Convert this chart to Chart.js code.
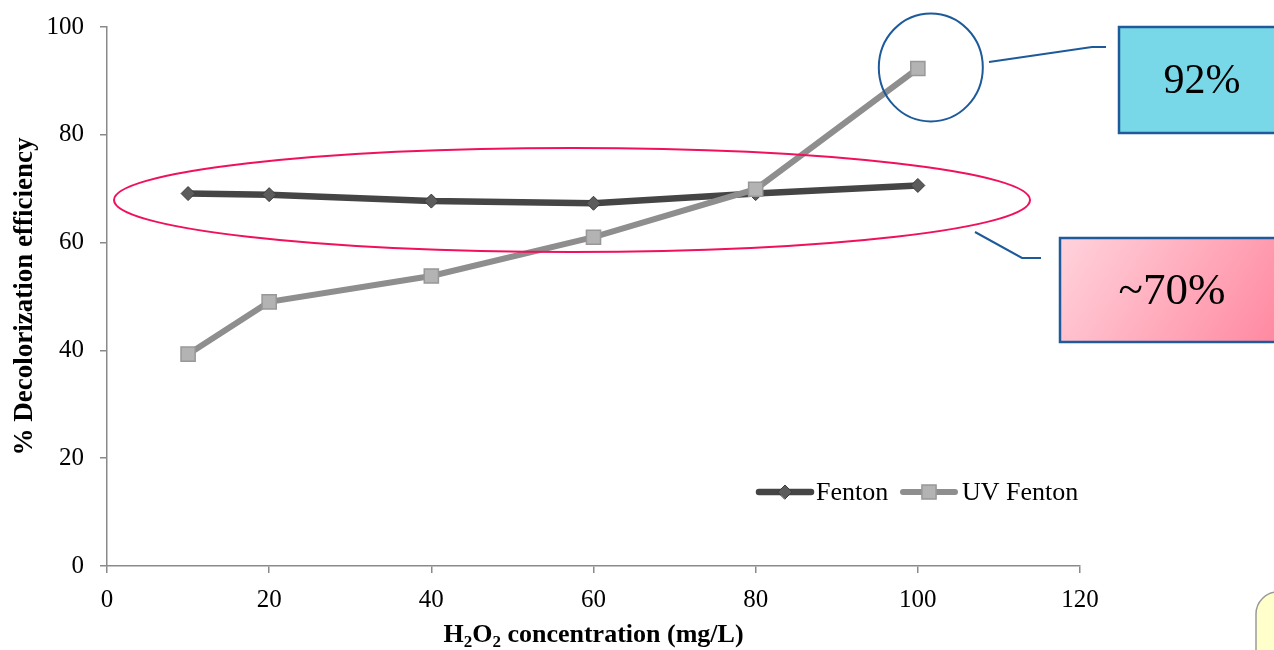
<!DOCTYPE html>
<html><head><meta charset="utf-8">
<script src="https://cdn.jsdelivr.net/npm/chart.js@4.4.1/dist/chart.umd.min.js"></script>
<style>html,body{margin:0;padding:0;background:#fff;overflow:hidden}canvas{display:block}</style>
</head><body>
<canvas id="c" width="1274" height="650"></canvas>
<script>
const concentrations = [10, 20, 40, 60, 80, 100];
const fentonValues = [69.1, 68.9, 67.7, 67.3, 69.1, 70.6];
const uvFentonValues = [39.3, 49.0, 53.8, 61.0, 69.9, 92.3];
const seriesLabels = ['Fenton', 'UV Fenton'];
const xTickValues = [0, 20, 40, 60, 80, 100, 120];
const yTickValues = [0, 20, 40, 60, 80, 100];
const xTitleParts = [['H', false], ['2', true], ['O', false], ['2', true], [' concentration (mg/L)', false]];
const yTitleText = '% Decolorization efficiency';
const calloutTexts = ['92%', '~70%'];

const SERIF = '"Liberation Serif", "Times New Roman", serif';

const bgPlugin = {
  id: 'bg',
  beforeDraw(chart) {
    const ctx = chart.ctx;
    ctx.save();
    ctx.fillStyle = '#ffffff';
    ctx.fillRect(0, 0, chart.width, chart.height);
    ctx.restore();
  }
};

const xTitlePlugin = {
  id: 'xTitle',
  afterDraw(chart) {
    const ctx = chart.ctx;
    const ca = chart.chartArea;
    const big = 'bold 26px ' + SERIF;
    const small = 'bold 17px ' + SERIF;
    ctx.save();
    let total = 0;
    xTitleParts.forEach(([t, sub]) => { ctx.font = sub ? small : big; total += ctx.measureText(t).width; });
    let x = (ca.left + ca.right) / 2 - total / 2;
    const base = 642;
    ctx.fillStyle = '#000';
    ctx.textBaseline = 'alphabetic';
    xTitleParts.forEach(([t, sub]) => {
      ctx.font = sub ? small : big;
      ctx.fillText(t, x, sub ? base + 5 : base);
      x += ctx.measureText(t).width;
    });
    ctx.restore();
  }
};

const legendPlugin = {
  id: 'customLegend',
  afterDraw(chart) {
    const ctx = chart.ctx;
    const items = [{x: 759, tx: 816}, {x: 903, tx: 962}];
    const y = 492;
    ctx.save();
    chart.data.datasets.forEach((ds, i) => {
      const it = items[i];
      ctx.strokeStyle = ds.borderColor;
      ctx.lineWidth = ds.borderWidth;
      ctx.lineCap = 'round';
      ctx.beginPath();
      ctx.moveTo(it.x, y);
      ctx.lineTo(it.x + 52, y);
      ctx.stroke();
      ctx.fillStyle = ds.pointBackgroundColor;
      ctx.strokeStyle = ds.pointBorderColor;
      ctx.lineWidth = ds.pointBorderWidth;
      Chart.helpers.drawPoint(ctx, {pointStyle: ds.pointStyle, radius: ds.pointRadius, borderWidth: ds.pointBorderWidth, rotation: 0}, it.x + 26, y);
      ctx.fillStyle = '#000';
      ctx.font = '26px ' + SERIF;
      ctx.textBaseline = 'middle';
      ctx.textAlign = 'left';
      ctx.fillText(ds.label, it.tx, y + 1);
    });
    ctx.restore();
  }
};

const calloutPlugin = {
  id: 'callouts',
  afterDraw(chart) {
    const ctx = chart.ctx;
    const xs = chart.scales.x, ys = chart.scales.y;
    ctx.save();
    // blue circle around the 92% point
    const cx = xs.getPixelForValue(101.6), cy = ys.getPixelForValue(92.5);
    ctx.strokeStyle = '#1d5a9a';
    ctx.lineWidth = 2;
    ctx.beginPath();
    ctx.ellipse(cx, cy, 52, 54, 0, 0, Math.PI * 2);
    ctx.stroke();
    ctx.beginPath();
    ctx.moveTo(989, 62); ctx.lineTo(1092, 47); ctx.lineTo(1106, 47);
    ctx.stroke();
    // blue box
    ctx.fillStyle = '#78d8e7';
    ctx.fillRect(1119, 27, 170, 106);
    ctx.lineWidth = 2.5;
    ctx.strokeStyle = '#1f5b9b';
    ctx.strokeRect(1119, 27, 170, 106);
    ctx.fillStyle = '#000';
    ctx.font = '42px ' + SERIF;
    ctx.textAlign = 'center';
    ctx.textBaseline = 'middle';
    ctx.fillText(calloutTexts[0], 1202, 82);

    // pink ellipse around Fenton line
    const ex = xs.getPixelForValue(57.35), ey = ys.getPixelForValue(67.9);
    ctx.strokeStyle = '#f0105c';
    ctx.lineWidth = 2;
    ctx.beginPath();
    ctx.ellipse(ex, ey, 458, 52, 0, 0, Math.PI * 2);
    ctx.stroke();
    ctx.strokeStyle = '#1d5a9a';
    ctx.beginPath();
    ctx.moveTo(975, 232); ctx.lineTo(1022, 258); ctx.lineTo(1041, 258);
    ctx.stroke();
    // pink box
    const g = ctx.createLinearGradient(1060, 238, 1330, 410);
    g.addColorStop(0, '#ffd3dc');
    g.addColorStop(1, '#ff6f8c');
    ctx.fillStyle = g;
    ctx.fillRect(1060, 238, 230, 104);
    ctx.lineWidth = 2.5;
    ctx.strokeStyle = '#1f5b9b';
    ctx.strokeRect(1060, 238, 230, 104);
    ctx.fillStyle = '#000';
    ctx.font = '45px ' + SERIF;
    ctx.fillText(calloutTexts[1], 1172, 292);

    // small yellow shape at bottom right
    ctx.fillStyle = '#ffffcc';
    ctx.strokeStyle = '#9a9a9a';
    ctx.lineWidth = 1.5;
    ctx.beginPath();
    ctx.roundRect(1256, 592, 60, 80, 22);
    ctx.fill();
    ctx.stroke();
    ctx.restore();
  }
};

const axisColor = '#8a8a8a';

new Chart(document.getElementById('c'), {
  type: 'line',
  data: {
    datasets: [
      {
        label: seriesLabels[0],
        data: concentrations.map((x, i) => ({x, y: fentonValues[i]})),
        borderColor: '#454545',
        borderWidth: 6.5,
        pointStyle: 'rectRot',
        pointRadius: 7,
        pointBackgroundColor: '#5c5c5c',
        pointBorderColor: '#3c3c3c',
        pointBorderWidth: 1,
        tension: 0,
        order: 1
      },
      {
        label: seriesLabels[1],
        data: concentrations.map((x, i) => ({x, y: uvFentonValues[i]})),
        borderColor: '#8e8e8e',
        borderWidth: 6,
        pointStyle: 'rect',
        pointRadius: 10,
        pointBackgroundColor: '#b3b3b3',
        pointBorderColor: '#989898',
        pointBorderWidth: 1.5,
        tension: 0,
        order: 0
      }
    ]
  },
  options: {
    responsive: false,
    animation: false,
    events: [],
    layout: {padding: {left: 0, top: 27, right: 194, bottom: 0}},
    plugins: {legend: {display: false}, tooltip: {enabled: false}, title: {display: false}},
    scales: {
      x: {
        type: 'linear', min: 0, max: 120,
        afterBuildTicks: s => { s.ticks = xTickValues.map(v => ({value: v})); },
        afterFit: s => { s.height = 84; s.paddingLeft = 0; s.paddingRight = 0; },
        grid: {drawOnChartArea: false, drawTicks: true, tickLength: 7, color: axisColor, lineWidth: 1.5},
        border: {color: axisColor, width: 1.5},
        ticks: {font: {family: SERIF, size: 25}, color: '#000', padding: 12, maxRotation: 0}
      },
      y: {
        type: 'linear', min: 0, max: 100,
        afterBuildTicks: s => { s.ticks = yTickValues.map(v => ({value: v})); },
        afterFit: s => { s.width = 107; s.paddingTop = 0; s.paddingBottom = 0; },
        grid: {drawOnChartArea: false, drawTicks: true, tickLength: 7, color: axisColor, lineWidth: 1.5},
        border: {color: axisColor, width: 1.5},
        ticks: {font: {family: SERIF, size: 25}, color: '#000', padding: 16},
        title: {display: true, text: yTitleText, color: '#000', font: {family: SERIF, size: 27, weight: 'bold'}, padding: {top: 9, bottom: 0}}
      }
    }
  },
  plugins: [bgPlugin, calloutPlugin, legendPlugin, xTitlePlugin]
});
</script>
</body></html>
